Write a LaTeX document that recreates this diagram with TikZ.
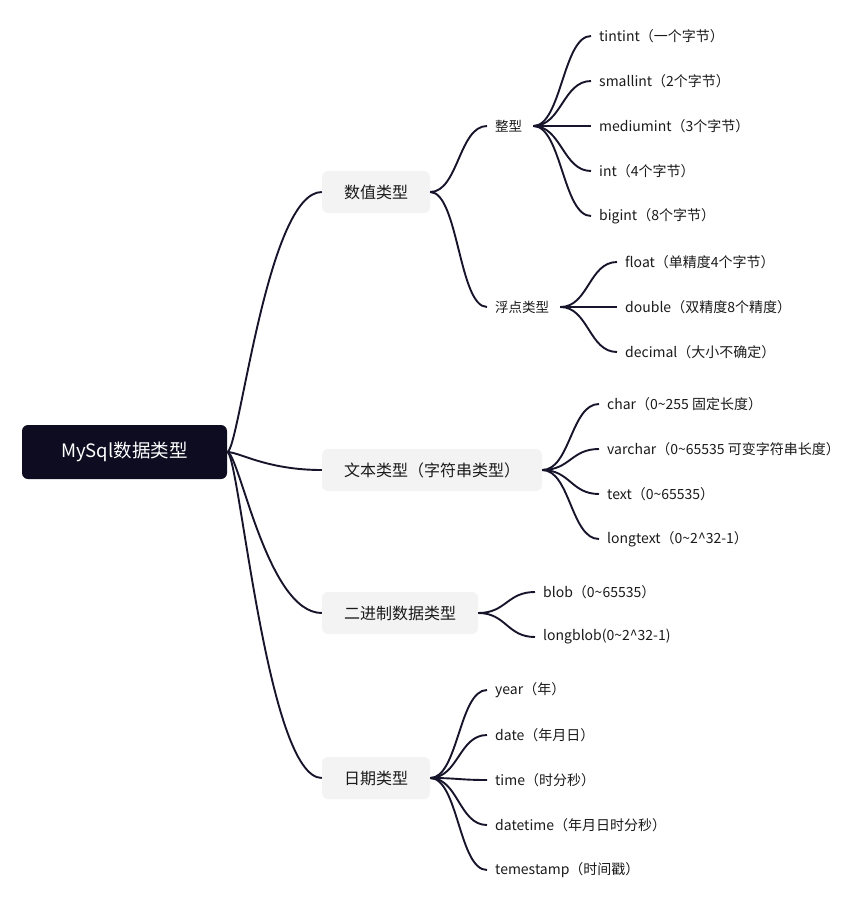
\documentclass[tikz,border=0pt]{standalone}
\usepackage{fontspec}
\setmainfont{Noto Sans CJK SC}
\definecolor{linec}{HTML}{17152B}
\definecolor{rootc}{HTML}{0E0C20}
\definecolor{boxc}{HTML}{F3F3F3}
\definecolor{txtc}{HTML}{1A1A1A}
\tikzset{
  conn/.style={draw=linec, line width=1.9pt},
  rootbox/.style={fill=rootc, rounded corners=6pt, minimum width=205pt, minimum height=54pt, text=white, font=\fontsize{18.5pt}{20pt}\selectfont, inner sep=0pt},
  lvbox/.style={fill=boxc, rounded corners=6pt, minimum height=42pt, text=txtc, font=\fontsize{16pt}{18pt}\selectfont, inner sep=0pt},
  lvtxt/.style={anchor=west, inner sep=0pt, yshift=-1pt, text=txtc, font=\fontsize{13.5pt}{15pt}\selectfont},
  leaf/.style={anchor=west, inner sep=0pt, yshift=-1pt, text=txtc, font=\fontsize{14pt}{16pt}\selectfont},
}
\newcommand{\rlink}[2]{\draw[conn] (#1.east) .. controls +(12,0) and +(-55,0) .. (#2.west);}
\newcommand{\blink}[2]{\draw[conn] (#1.east) .. controls +(28,0) and +(-28,0) .. ([xshift=-8pt]#2.west);}
\newcommand{\tlink}[2]{\draw[conn] ([xshift=11pt]#1.east) .. controls +(28,0) and +(-28,0) .. ([xshift=-8pt]#2.west);}
\begin{document}
\begin{tikzpicture}[x=1pt,y=-1pt]
\useasboundingbox (0,0) rectangle (862,900);
% root
\node[rootbox] (root) at (124.5,452) {MySql数据类型};
% level 1
\node[lvbox, minimum width=108pt] (num) at (376,192) {数值类型};
\node[lvbox, minimum width=220pt] (str) at (432,470) {文本类型（字符串类型）};
\node[lvbox, minimum width=156pt] (bin) at (400,613) {二进制数据类型};
\node[lvbox, minimum width=108pt] (dat) at (376,778) {日期类型};
% level 2
\node[lvtxt] (int) at (495,125) {整型};
\node[lvtxt] (flt) at (495,306) {浮点类型};
% leaves: integers
\node[leaf] (i1) at (599,35) {tintint（一个字节）};
\node[leaf] (i2) at (599,80) {smallint（2个字节）};
\node[leaf] (i3) at (599,125) {mediumint（3个字节）};
\node[leaf] (i4) at (599,170) {int（4个字节）};
\node[leaf] (i5) at (599,215) {bigint（8个字节）};
% floats
\node[leaf] (f1) at (625,261) {float（单精度4个字节）};
\node[leaf] (f2) at (625,306) {double（双精度8个精度）};
\node[leaf] (f3) at (625,351) {decimal（大小不确定）};
% strings
\node[leaf] (s1) at (607,403) {char（0\textasciitilde 255 固定长度）};
\node[leaf] (s2) at (607,448) {varchar（0\textasciitilde 65535 可变字符串长度）};
\node[leaf] (s3) at (607,493) {text（0\textasciitilde 65535）};
\node[leaf] (s4) at (607,538) {longtext（0\textasciitilde 2\textasciicircum 32-1）};
% binary
\node[leaf] (b1) at (543,591) {blob（0\textasciitilde 65535）};
\node[leaf] (b2) at (543,636) {longblob(0\textasciitilde 2\textasciicircum 32-1)};
% dates
\node[leaf] (d1) at (495,689) {year（年）};
\node[leaf] (d2) at (495,734) {date（年月日）};
\node[leaf] (d3) at (495,779) {time（时分秒）};
\node[leaf] (d4) at (495,824) {datetime（年月日时分秒）};
\node[leaf] (d5) at (495,869) {temestamp（时间戳）};
% connectors
\rlink{root}{num}
\rlink{root}{str}
\rlink{root}{bin}
\rlink{root}{dat}
\blink{num}{int}
\blink{num}{flt}
\foreach \c in {i1,i2,i3,i4,i5} {\tlink{int}{\c}}
\foreach \c in {f1,f2,f3} {\tlink{flt}{\c}}
\foreach \c in {s1,s2,s3,s4} {\blink{str}{\c}}
\foreach \c in {b1,b2} {\blink{bin}{\c}}
\foreach \c in {d1,d2,d3,d4,d5} {\blink{dat}{\c}}
\end{tikzpicture}
\end{document}
